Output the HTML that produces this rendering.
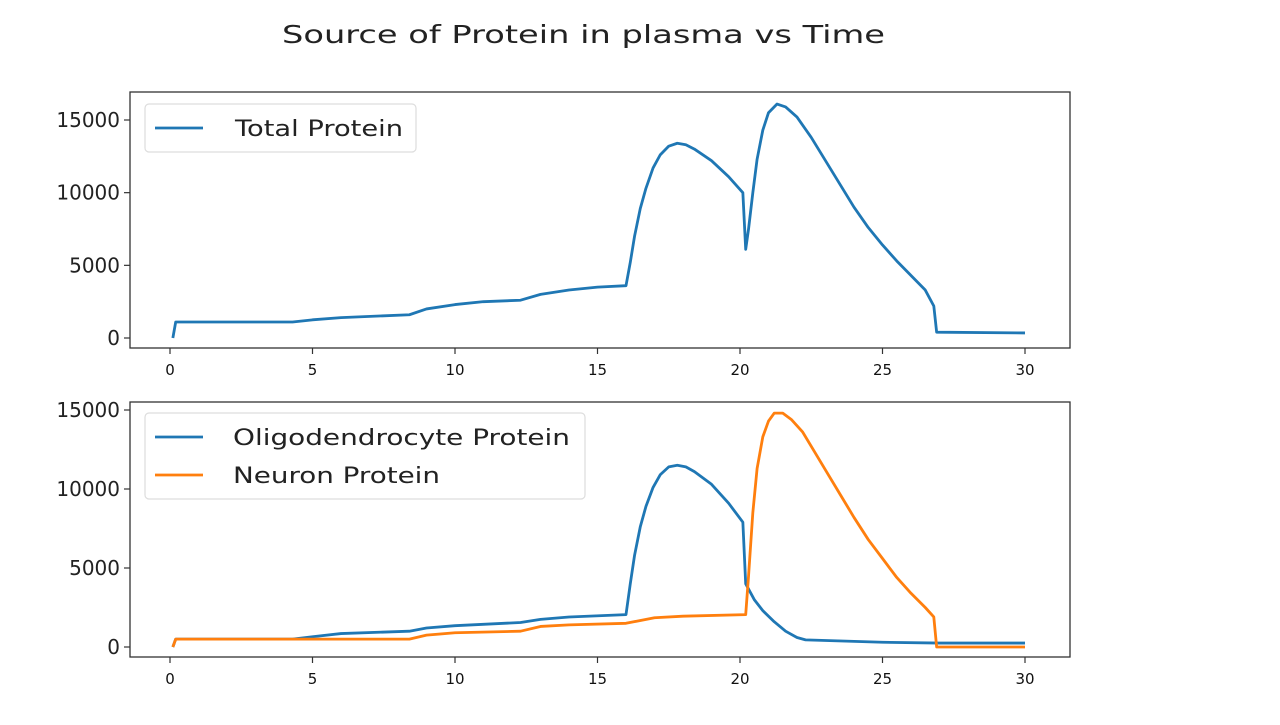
<!DOCTYPE html>
<html><head><meta charset="utf-8"><style>
body{margin:0;background:#fff;width:1280px;height:720px;overflow:hidden}
svg text{font-family:"DejaVu Sans","Liberation Sans",sans-serif}
</style></head><body>
<svg id="c" width="1280" height="720">
<text x="282" y="43" font-size="25" textLength="603" lengthAdjust="spacingAndGlyphs" fill="#222">Source of Protein in plasma vs Time</text>
</svg>
<script>
const xTicks=[0,5,10,15,20,25,30];
const yTicks=[0,5000,10000,15000];
const totalX=[0.1,0.2,4.3,5,6,8.4,9,10,11,12.3,13,14,15,16,16.15,16.3,16.5,16.7,16.95,17.2,17.5,17.8,18.1,18.4,19,19.6,20.1,20.2,20.3,20.45,20.6,20.8,21,21.3,21.6,22,22.5,23,23.5,24,24.5,25,25.5,26,26.5,26.8,26.9,30];
const totalY=[0,1100,1100,1250,1400,1600,2000,2300,2500,2600,3000,3300,3500,3600,5200,7000,8900,10300,11700,12600,13200,13400,13300,13000,12200,11100,10000,6100,7500,10000,12300,14300,15500,16100,15900,15200,13800,12200,10600,9000,7600,6400,5300,4300,3300,2200,400,350];
const oligoX=[0.1,0.2,4.3,5,6,8.4,9,10,12.3,13,14,16,16.15,16.3,16.5,16.7,16.95,17.2,17.5,17.8,18.1,18.4,19,19.6,20.1,20.2,20.5,20.8,21.2,21.6,22,22.3,25,27,30];
const oligoY=[0,500,500,650,850,1000,1200,1350,1550,1750,1900,2050,4000,5800,7600,8900,10100,10900,11400,11500,11400,11100,10300,9100,7900,4000,3000,2300,1600,1000,600,450,300,250,250];
const neuronX=[0.1,0.2,8.4,9,10,12.3,13,14,16,17,18,20.2,20.3,20.45,20.6,20.8,21,21.2,21.5,21.8,22.2,22.6,23,23.5,24,24.5,25,25.5,26,26.5,26.8,26.9,30];
const neuronY=[0,500,500,750,900,1000,1300,1400,1500,1850,1950,2050,4500,8500,11300,13300,14300,14800,14800,14400,13600,12400,11200,9700,8200,6800,5600,4400,3400,2500,1900,0,0];
const svg=document.getElementById('c');const NS='http://www.w3.org/2000/svg';
function mk(t,a){const e=document.createElementNS(NS,t);for(const k in a)e.setAttribute(k,a[k]);svg.appendChild(e);return e;}
function panel(box,y0,y15k,series,legend,pname){
 const sx=v=>170+v*(1025-170)/30;
 const sy=v=>y0+(y15k-y0)*v/15000;
 xTicks.forEach(t=>{
  const l=mk('line',{x1:sx(t),x2:sx(t),y1:box.b,y2:box.b+6,stroke:'#333','stroke-width':1.2});
  
  
  const tx=mk('text',{x:sx(t),y:box.b+27,'font-size':15,'text-anchor':'middle',fill:'#111'});tx.textContent=t;
  
  
 });
 yTicks.forEach(t=>{
  const l=mk('line',{x1:box.l-6,x2:box.l,y1:sy(t),y2:sy(t),stroke:'#333','stroke-width':1.2});
  
  
  const tx=mk('text',{x:box.l-10,y:sy(t)+7,'font-size':20,'text-anchor':'end',fill:'#222'});tx.textContent=t;
  
  
 });
 series.forEach(s=>{
  const p=mk('polyline',{points:s.x.map((v,i)=>sx(v)+','+sy(s.y[i])).join(' '),fill:'none',stroke:s.c,'stroke-width':2.8,'stroke-linejoin':'round'});
  
  
 });
 const f=mk('rect',{x:box.l,y:box.t,width:box.r-box.l,height:box.b-box.t,fill:'none',stroke:'#333','stroke-width':1.3});
 
 
 const lg=mk('rect',{x:legend.x,y:legend.y,width:legend.w,height:legend.h,rx:4,fill:'#fff',stroke:'#ddd','stroke-width':1.2});
 
 
 series.forEach((s,i)=>{
  const yy=legend.y+24+i*38;
  const l=mk('line',{x1:legend.x+10,x2:legend.x+58,y1:yy,y2:yy,stroke:s.c,'stroke-width':2.8});
  
  
  const tx=mk('text',{x:legend.x+legend.tx,y:yy+8,'font-size':22,fill:'#222',textLength:s.tl,lengthAdjust:'spacingAndGlyphs'});tx.textContent=s.label;
  
  
 });
}
panel({l:130,t:92,r:1070,b:348},338,120,[{x:totalX,y:totalY,c:'#1f77b4',n:'total-protein-line',label:'Total Protein',tl:168}],{x:145,y:104,w:271,h:48,tx:90},'top-panel');
panel({l:130,t:402,r:1070,b:657},647,410,[{x:oligoX,y:oligoY,c:'#1f77b4',n:'oligodendrocyte-line',label:'Oligodendrocyte Protein',tl:337},{x:neuronX,y:neuronY,c:'#ff7f0e',n:'neuron-line',label:'Neuron Protein',tl:207}],{x:145,y:413,w:440,h:86,tx:88},'bottom-panel');
</script>
</body></html>
